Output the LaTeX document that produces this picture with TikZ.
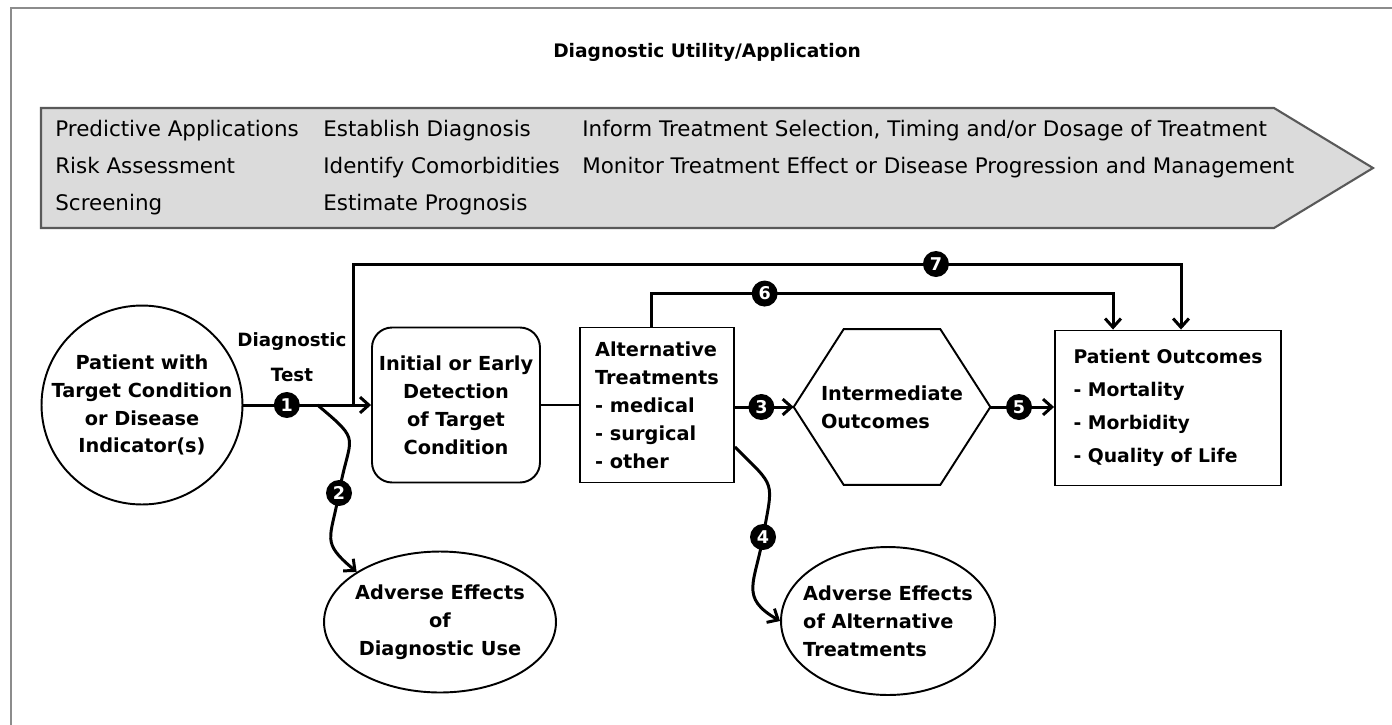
\documentclass[tikz,border=0pt]{standalone}
\usepackage{fontspec}
\setmainfont{DejaVu Sans}
\usetikzlibrary{arrows.meta,shapes.geometric}

\begin{document}
\begin{tikzpicture}[x=0.02cm, y=-0.02cm,
    txt/.style={font=\bfseries\fontsize{11}{15.9}\selectfont, align=center},
    ovalbox/.style={ellipse, draw, line width=1.1pt, txt, inner xsep=-0.4cm, inner ysep=0pt},
    sqbox/.style={rectangle, draw, line width=1.1pt, txt, align=left, inner sep=0pt},
    conn/.style={line width=1.7pt},
    arr/.style={conn, -{Straight Barb[length=5pt,width=9pt]}},
    numdot/.style={circle, fill=black, text=white, inner sep=0pt, minimum size=0.52cm,
      font=\bfseries\fontsize{10}{10}\selectfont},
    coltext/.style={font=\fontsize{12.2}{21}\selectfont, align=left, anchor=north west, inner sep=0pt}]

    \useasboundingbox (0,0) rectangle (1392,724);

    %%% frame and title
    \draw[black!45, line width=1.2pt] (11,730) -- (11,8) -- (1400,8);
    \node[font=\bfseries\fontsize{10.6}{13}\selectfont] (title) at (707,52) {Diagnostic Utility/Application};

    %%% banner
    \draw[draw=black!65, fill=black!14, line width=1.2pt]
        (41,108) -- (1274,108) -- (1373,168) -- (1274,228) -- (41,228) -- cycle;
    \node[coltext] (col1) at (55,120) {Predictive Applications\\Risk Assessment\\Screening};
    \node[coltext] (col2) at (323,120) {Establish Diagnosis\\Identify Comorbidities\\Estimate Prognosis};
    \node[coltext] (col3) at (582,120) {Inform Treatment Selection, Timing and/or Dosage of Treatment\\Monitor Treatment Effect or Disease Progression and Management};

    %%% boxes
    \node[ovalbox, minimum width=4.02cm, minimum height=3.98cm] (patient) at (142,405)
        {Patient with\\Target Condition\\or Disease\\Indicator(s)};
    \node[txt, font=\bfseries\fontsize{10.4}{19.8}\selectfont] (dtlab) at (292,357) {Diagnostic\\Test};
    \node[sqbox, rounded corners=0.4cm, align=center, minimum width=3.36cm, minimum height=3.1cm] (detect) at (456,405)
        {Initial or Early\\Detection\\of Target\\Condition};
    \node[sqbox, minimum width=3.08cm, minimum height=3.1cm] (alt) at (657,405)
        {Alternative\\Treatments\\- medical\\- surgical\\- other};
    \node[txt, align=left, inner sep=0pt, minimum width=3.92cm, minimum height=3.1cm] (inter) at (892,407) {Intermediate\\Outcomes};
    \draw[line width=1.1pt] (inter.west) -- ([xshift=1cm]inter.north west) -- ([xshift=-1cm]inter.north east)
        -- (inter.east) -- ([xshift=-1cm]inter.south east) -- ([xshift=1cm]inter.south west) -- cycle;
    \node[sqbox, minimum width=4.52cm, minimum height=3.1cm, font=\bfseries\fontsize{10.7}{18.7}\selectfont] (outcome) at (1168,408)
        {Patient Outcomes\\- Mortality\\- Morbidity\\- Quality of Life};
    \node[ovalbox, minimum width=4.64cm, minimum height=2.82cm] (adv1) at (440,622)
        {Adverse Effects\\of\\Diagnostic Use};
    \node[ovalbox, align=left, minimum width=4.28cm, minimum height=2.96cm] (adv2) at (888,621)
        {Adverse Effects\\of Alternative\\Treatments};

    %%% connectors
    \draw[arr] (patient) -- node[numdot, pos=0.34] (n1) {1}
        coordinate[pos=0.58] (br2) coordinate[pos=0.86] (br7) (detect);
    \draw[line width=1.1pt] (detect) -- (alt);
    \draw[arr] (alt.east |- inter.west) -- node[numdot, pos=0.45] (n3) {3} (inter.west);
    \draw[arr] (inter.east) -- node[numdot, pos=0.45] (n5) {5} (outcome.west |- inter.east);

    \draw[arr] (br7) -- ++(0,-141) -| node[numdot, pos=0.352] (n7) {7} ([xshift=0.26cm]outcome.north);
    \draw[arr] ([xshift=-0.12cm]alt.north) -- ++(0,-33) -| node[numdot, pos=0.123] (n6) {6} ([xshift=-1.1cm]outcome.north);

    \coordinate (c2) at (339,493);
    \draw[arr] (br2) to[out=-40, in=80, looseness=1.7] (c2) to[out=-100, in=140, looseness=1.5] (adv1.149);
    \node[numdot] (n2) at (c2) {2};

    \coordinate (c4) at (763,537);
    \draw[arr] ([yshift=-0.84cm]alt.east) to[out=-45, in=80, looseness=1.6] (c4) to[out=-100, in=150, looseness=1.4] (adv2.west);
    \node[numdot] (n4) at (c4) {4};
\end{tikzpicture}
\end{document}
